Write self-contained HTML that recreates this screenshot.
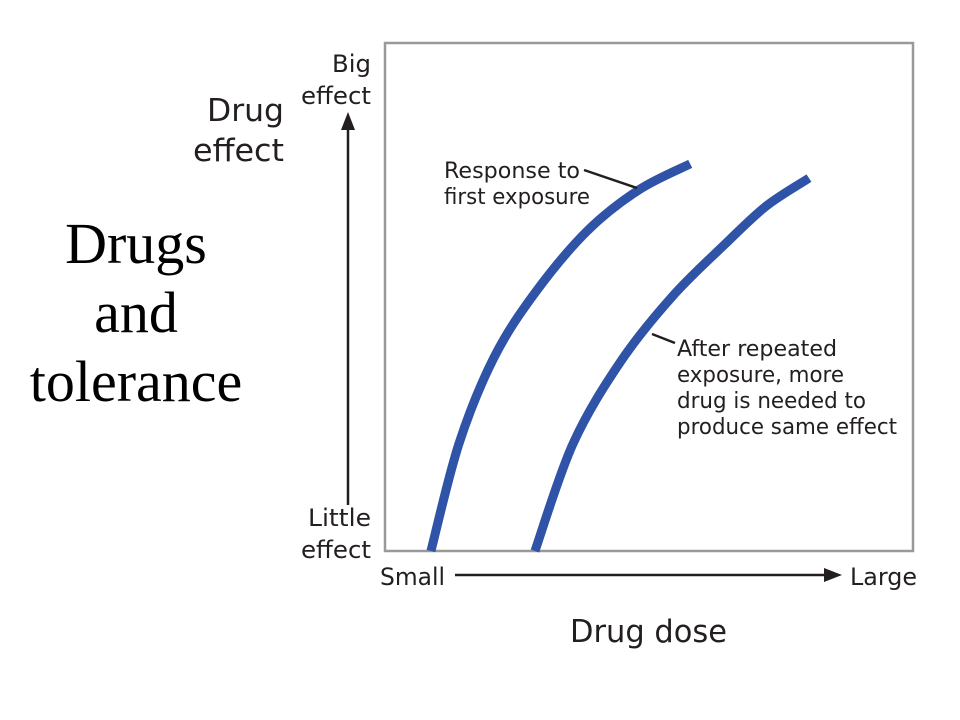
<!DOCTYPE html>
<html><head><meta charset="utf-8"><style>
body{margin:0;background:#fff;width:960px;height:720px;overflow:hidden}
svg{display:block}
.s{font-family:"DejaVu Sans","Liberation Sans",sans-serif;fill:#231f20}
</style></head><body>
<svg width="960" height="720">
<g font-family="Liberation Serif, serif" font-size="58" text-anchor="middle" fill="#000">
<text x="136" y="263">Drugs</text><text x="136" y="332">and</text><text x="136" y="401">tolerance</text></g>
<rect x="385" y="43" width="528" height="508" fill="none" stroke="#999" stroke-width="2.5"/>
<g class="s" font-size="24">
<text x="371" y="72" text-anchor="end" textLength="39" lengthAdjust="spacingAndGlyphs">Big</text><text x="371" y="104" text-anchor="end" textLength="70" lengthAdjust="spacingAndGlyphs">effect</text>
<text x="371" y="526" text-anchor="end" textLength="63" lengthAdjust="spacingAndGlyphs">Little</text><text x="371" y="558" text-anchor="end" textLength="70" lengthAdjust="spacingAndGlyphs">effect</text>
<text x="207" y="121" font-size="31" textLength="77" lengthAdjust="spacingAndGlyphs">Drug</text><text x="193" y="161" font-size="31" textLength="91" lengthAdjust="spacingAndGlyphs">effect</text>
<text x="380" y="585" textLength="65" lengthAdjust="spacingAndGlyphs">Small</text><text x="850" y="585" textLength="67" lengthAdjust="spacingAndGlyphs">Large</text>
<text x="570" y="642" font-size="31" textLength="157" lengthAdjust="spacingAndGlyphs">Drug dose</text>
</g>
<line x1="348" y1="505" x2="348" y2="125" stroke="#231f20" stroke-width="2.5"/>
<polygon points="348,112 341,130 355,130" fill="#231f20"/>
<line x1="455" y1="575" x2="828" y2="575" stroke="#231f20" stroke-width="2.5"/>
<polygon points="842,575 824,568 824,582" fill="#231f20"/>
<g id="curves"></g>
<line x1="584" y1="170" x2="637" y2="188" stroke="#231f20" stroke-width="2.5"/>
<line x1="652" y1="334" x2="675" y2="343" stroke="#231f20" stroke-width="2.5"/>
<g class="s" font-size="22">
<text x="444" y="178" textLength="136" lengthAdjust="spacingAndGlyphs">Response to</text><text x="444" y="204" textLength="146" lengthAdjust="spacingAndGlyphs">first exposure</text>
<text x="677" y="356" textLength="160" lengthAdjust="spacingAndGlyphs">After repeated</text><text x="677" y="382" textLength="167" lengthAdjust="spacingAndGlyphs">exposure, more</text>
<text x="677" y="408" textLength="189" lengthAdjust="spacingAndGlyphs">drug is needed to</text><text x="677" y="434" textLength="220" lengthAdjust="spacingAndGlyphs">produce same effect</text>
</g>
</svg>
<script>
const firstDose=[8.7,14.0,20.6,28.4,38.3,48.1,57.8];
const firstEffect=[0,21.1,38.0,50.8,63.0,71.1,76.2];
const repeatDose=[28.4,35.6,44.7,54.5,64.4,72.2,80.3];
const repeatEffect=[0,21.1,37.4,50.2,60.4,67.9,73.4];
const xs=v=>385+v*5.28, ys=v=>551-v*5.08;
function path(xa,ya){const p=xa.map((x,i)=>[xs(x),ys(ya[i])]);let d=`M${p[0][0]},${p[0][1]}`;
for(let i=0;i<p.length-1;i++){const a=p[i-1]||p[i],b=p[i],c=p[i+1],e=p[i+2]||c;
d+=` C${b[0]+(c[0]-a[0])/6},${b[1]+(c[1]-a[1])/6} ${c[0]-(e[0]-b[0])/6},${c[1]-(e[1]-b[1])/6} ${c[0]},${c[1]}`;}return d;}
const g=document.getElementById('curves');
[[firstDose,firstEffect,'first-exposure-curve'],[repeatDose,repeatEffect,'repeated-exposure-curve']].forEach(s=>{
const el=document.createElementNS('http://www.w3.org/2000/svg','path');
el.setAttribute('d',path(s[0],s[1]));el.setAttribute('fill','none');el.setAttribute('stroke','#2f53a7');el.setAttribute('stroke-width','9');


g.appendChild(el);});
</script>
</body></html>
